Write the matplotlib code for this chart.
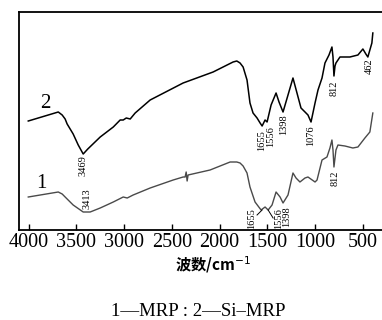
import matplotlib
matplotlib.use('Agg')
import matplotlib.pyplot as plt

# FTIR spectra, wavenumber (cm-1) vs. transmittance (a.u.)
wn_si = [4003, 3689, 3648, 3617, 3596, 3533, 3480, 3428, 3380, 3250, 3113, 3041, 3009,
         2977, 2936, 2884, 2727, 2382, 2068, 1859, 1820, 1786, 1754, 1713, 1682, 1650,
         1608, 1576, 1555, 1524, 1503, 1461, 1409, 1378, 1336, 1284, 1232, 1190, 1148,
         1106, 1075, 1043, 1001, 970, 928, 897, 855, 824, 813, 803, 792, 782, 740, 688,
         636, 594, 552, 500, 469, 448, 406, 396]
t_si = [109, 118, 115, 111, 106, 96, 85, 76, 81, 93, 103, 110, 110,
        112, 111, 117, 130, 147, 158, 168, 169, 167, 163, 150, 127, 117,
        112, 107, 104, 110, 108, 125, 137, 128, 118, 135, 152, 137, 122,
        118, 115, 108, 127, 140, 152, 167, 175, 183, 173, 154, 164, 167, 173, 173,
        173, 174, 175, 181, 176, 173, 187, 197]

wn_mrp = [4003, 3689, 3648, 3617, 3533, 3428, 3355, 3250, 3113, 3009, 2967, 2905, 2727,
          2486, 2382, 2361, 2350, 2340, 2330, 2100, 1890, 1820, 1786, 1754, 1713, 1682,
          1629, 1566, 1524, 1492, 1451, 1409, 1367, 1336, 1284, 1232, 1200, 1159, 1106,
          1075, 1001, 980, 928, 876, 845, 824, 813, 803, 782, 761, 688, 605, 552,
          479, 427, 396]
t_mrp = [33, 38, 36, 33, 25, 18, 18, 22, 28, 33, 32, 35, 42,
         50, 53, 53, 58, 49, 55, 60, 68, 68, 67, 64, 57, 43,
         28, 20, 23, 20, 25, 38, 33, 27, 35, 57, 52, 48, 52,
         53, 48, 50, 70, 73, 82, 90, 80, 63, 80, 85, 84, 82, 83,
         92, 98, 117]

# peak labels: (text, x, y)
peaks_si = [('3469', 3428, 64), ('1655', 1555, 89), ('1556', 1461, 93),
            ('1398', 1325, 105), ('1076', 1043, 94), ('812', 803, 142),
            ('462', 438, 164)]
peaks_mrp = [('3413', 3386, 31), ('812', 792, 52), ('1655', 1660, 11),
             ('1556', 1378, 11), ('1398', 1294, 13)]

xticks = [4000, 3500, 3000, 2500, 2000, 1500, 1000, 500]

serif = ['Liberation Serif', 'DejaVu Serif']
plt.rcParams['font.family'] = serif

fig = plt.figure(figsize=(3.82, 3.20), dpi=100)
ax = fig.add_axes([19 / 382, 1 - 230 / 320, 1 - 19 / 382, 218 / 320])

ax.plot(wn_si, t_si, color='black', lw=1.1)
ax.plot(wn_mrp, t_mrp, color='#4a4a4a', lw=1.0)

for txt, x, y in peaks_si + peaks_mrp:
    ax.text(x, y, txt, rotation=90, ha='center', va='center', fontsize=7.5)

# leader lines for crowded labels on curve 1
ax.plot([1608, 1555], [15, 20], color='black', lw=0.7)
ax.plot([1492, 1440], [20, 12], color='black', lw=0.7)

ax.text(3820, 127, '2', fontsize=15, ha='center', va='center')
ax.text(3870, 46, '1', fontsize=15, ha='center', va='center')

ax.set_xlim(4100, 300)
ax.set_ylim(0, 218)
ax.set_xticks(xticks)
ax.set_xticklabels([str(v) for v in xticks], fontsize=14.5)
ax.set_yticks([])
ax.tick_params(axis='x', direction='in', length=4, width=1, pad=2)
ax.spines['right'].set_visible(False)
for s in ['left', 'bottom', 'top']:
    ax.spines[s].set_linewidth(1.3)

fig.text(213 / 382, 1 - 265 / 320, '波数/cm$^{-1}$', ha='center', va='center',
         fontsize=11, fontweight='bold', family=['Noto Sans CJK SC', 'DejaVu Sans'])
fig.text(198 / 382, 1 - 312 / 320, '1—MRP : 2—Si–MRP', ha='center', va='center',
         fontsize=13.5, family=['Liberation Serif', 'Noto Sans CJK SC'])

fig.savefig('out.png', dpi=100)
